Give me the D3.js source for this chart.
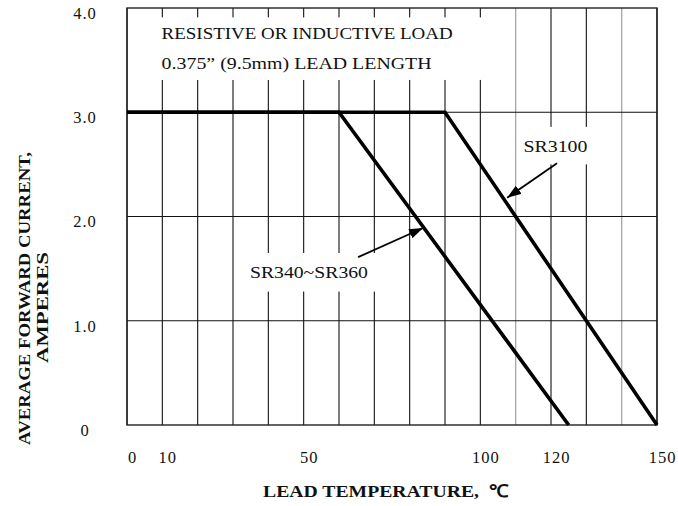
<!DOCTYPE html>
<html>
<head>
<meta charset="utf-8">
<script src="https://cdn.jsdelivr.net/npm/d3@7"></script>
<style>
  body { margin: 0; background: #fff; }
  svg text { font-family: "Liberation Serif", "Times New Roman", serif; fill: #111; }
</style>
</head>
<body>
<div id="plot"></div>
<script>
/* data */
var temps340 = [0, 60, 125];
var amps340 = [3, 3, 0];
var temps3100 = [0, 90, 150];
var amps3100 = [3, 3, 0];

var xTicks = [0, 10, 50, 100, 120, 150];
var yTicks = [0, 1, 2, 3, 4];
var yTickLabels = ['0', '1.0', '2.0', '3.0', '4.0'];
var gridTemps = d3.range(0, 151, 10);
var gridAmps = [1, 2, 3];

var W = 678, H = 506;
var margin = {t: 8, r: 21, b: 81, l: 127};
var width = W - margin.l - margin.r,
    height = H - margin.t - margin.b;

var svg = d3.select('#plot').append('svg')
  .attr('width', W)
  .attr('height', H);

var plot = svg.append('g')
  .attr('transform', 'translate(' + margin.l + ',' + margin.t + ')');

var x = d3.scaleLinear().domain([0, 150]).range([0, width]);
var y = d3.scaleLinear().domain([0, 4]).range([height, 0]);

// grid
var lightTemps = [110, 140];
plot.selectAll('.vgrid').data(gridTemps).enter()
  .append('line')
  .attr('class', 'vgrid')
  .attr('x1', function (d) { return x(d); })
  .attr('x2', function (d) { return x(d); })
  .attr('y1', 0).attr('y2', height)
  .style('stroke', function (d) { return lightTemps.indexOf(d) >= 0 ? '#aaa' : '#111'; })
  .style('stroke-width', function (d) { return lightTemps.indexOf(d) >= 0 ? 1.4 : 1.1; });

plot.selectAll('.hgrid').data(gridAmps).enter()
  .append('line')
  .attr('class', 'hgrid')
  .attr('x1', 0).attr('x2', width)
  .attr('y1', function (d) { return y(d); })
  .attr('y2', function (d) { return y(d); })
  .style('stroke', '#111')
  .style('stroke-width', 1.1);

// frame
plot.append('rect')
  .attr('x', 0).attr('y', 0)
  .attr('width', width).attr('height', height)
  .style('fill', 'none')
  .style('stroke', '#222')
  .style('stroke-width', 1.4);

// white boxes behind the notes
function whiteBox(x0, x1, y0, y1) {
  plot.append('rect')
    .attr('x', x(x0)).attr('y', y(y0))
    .attr('width', x(x1) - x(x0))
    .attr('height', y(y1) - y(y0))
    .style('fill', '#fff');
}
whiteBox(0.6, 102.6, 3.91, 3.31);
whiteBox(110.6, 131.8, 2.86, 2.50);
whiteBox(33.2, 71.8, 1.65, 1.28);

// curves
var line = d3.line()
  .x(function (d) { return x(d[0]); })
  .y(function (d) { return y(d[1]); });

var curves = [d3.zip(temps340, amps340), d3.zip(temps3100, amps3100)];
plot.selectAll('.curve').data(curves).enter()
  .append('path')
  .attr('class', 'curve')
  .attr('d', line)
  .style('fill', 'none')
  .style('stroke', '#000')
  .style('stroke-width', 3.6)
  .style('stroke-linejoin', 'miter');

// arrows
svg.append('defs').append('marker')
  .attr('id', 'head')
  .attr('markerUnits', 'userSpaceOnUse')
  .attr('viewBox', '0 0 14 10')
  .attr('refX', 14).attr('refY', 5)
  .attr('markerWidth', 14).attr('markerHeight', 10)
  .attr('orient', 'auto')
  .append('path')
  .attr('d', 'M0,0 L14,5 L0,10 Z')
  .style('fill', '#000');

var arrows = [
  {from: [121.7, 2.51], to: [107.6, 2.18]},
  {from: [65.4, 1.61], to: [83.8, 1.89]}
];
plot.selectAll('.arrow').data(arrows).enter()
  .append('line')
  .attr('class', 'arrow')
  .attr('x1', function (d) { return x(d.from[0]); })
  .attr('y1', function (d) { return y(d.from[1]); })
  .attr('x2', function (d) { return x(d.to[0]); })
  .attr('y2', function (d) { return y(d.to[1]); })
  .style('stroke', '#000')
  .style('stroke-width', 1.8)
  .attr('marker-end', 'url(#head)');

// notes (the source type is a little wider than Times, so stretch to fit)
var notes = [
  {t: 'RESISTIVE OR INDUCTIVE LOAD', x: 9.8, y: 3.76, w: 291},
  {t: '0.375\u201D (9.5mm) LEAD LENGTH', x: 9.8, y: 3.47, w: 270},
  {t: 'SR3100', x: 112.2, y: 2.68, w: 64},
  {t: 'SR340~SR360', x: 34.8, y: 1.47, w: 118}
];
plot.selectAll('.note').data(notes).enter()
  .append('text')
  .attr('class', 'note')
  .attr('x', function (d) { return x(d.x); })
  .attr('y', function (d) { return y(d.y); })
  .attr('dy', '0.35em')
  .attr('textLength', function (d) { return d.w; })
  .attr('lengthAdjust', 'spacingAndGlyphs')
  .style('font-size', '17.5px')
  .text(function (d) { return d.t; });

// axes
var xAxis = d3.axisBottom(x).tickValues(xTicks).tickSize(0).tickPadding(26);
var gx = plot.append('g')
  .attr('transform', 'translate(5,' + height + ')')
  .call(xAxis);
gx.select('.domain').remove();
gx.selectAll('text')
  .style('font-size', '16.5px')
  .style('letter-spacing', '1px')
  .style('font-family', '"Liberation Serif", serif');

var yAxis = d3.axisLeft(y).tickValues(yTicks).tickSize(0).tickPadding(30)
  .tickFormat(function (d, i) { return yTickLabels[i]; });
var gy = plot.append('g')
  .attr('transform', 'translate(0,5)')
  .call(yAxis);
gy.select('.domain').remove();
gy.selectAll('text')
  .attr('text-anchor', 'middle')
  .attr('x', -42)
  .style('font-size', '16.5px')
  .style('letter-spacing', '1px')
  .style('font-family', '"Liberation Serif", serif');

// titles
svg.append('text')
  .attr('x', 263)
  .attr('y', 497)
  .attr('textLength', 245)
  .attr('lengthAdjust', 'spacingAndGlyphs')
  .style('white-space', 'pre')
  .style('font-size', '17.5px')
  .style('font-weight', 'bold')
  .text('LEAD TEMPERATURE,  \u2103');

var ytitle = svg.append('g')
  .attr('transform', 'translate(0,' + 299 + ') rotate(-90)');
ytitle.append('text')
  .attr('x', -146).attr('y', 30)
  .attr('textLength', 293)
  .attr('lengthAdjust', 'spacingAndGlyphs')
  .style('font-size', '17.5px')
  .style('font-weight', 'bold')
  .text('AVERAGE FORWARD CURRENT,');
ytitle.append('text')
  .attr('x', -64).attr('y', 48)
  .attr('textLength', 111)
  .attr('lengthAdjust', 'spacingAndGlyphs')
  .style('font-size', '17.5px')
  .style('font-weight', 'bold')
  .text('AMPERES');
</script>
</body>
</html>
